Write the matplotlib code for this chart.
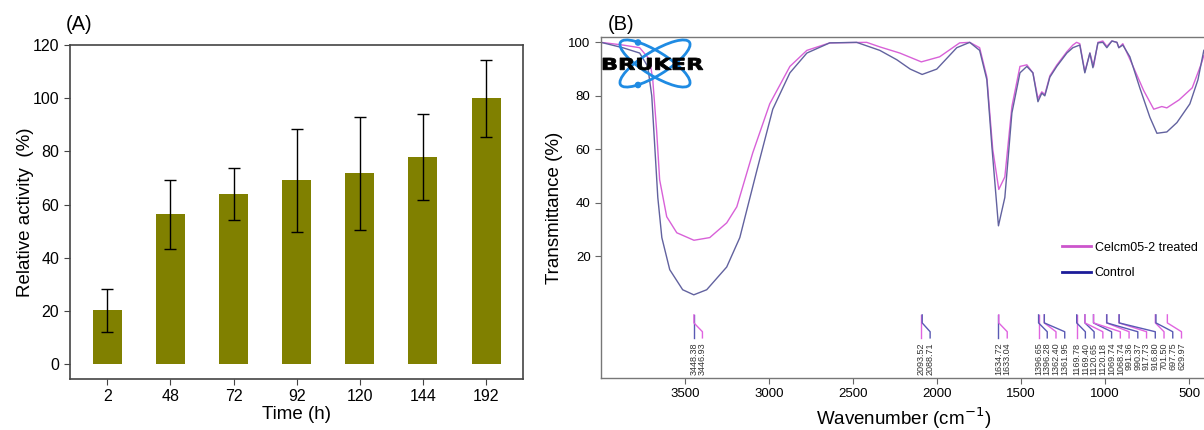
import numpy as np
import matplotlib.pyplot as plt
from matplotlib.patches import Ellipse, Circle, PathPatch
from matplotlib.lines import Line2D
from matplotlib.textpath import TextPath
from matplotlib.font_manager import FontProperties
from matplotlib.transforms import Affine2D

plt.rcParams['font.family'] = ['Liberation Sans', 'DejaVu Sans']

#%% # Data, panel (A)

time_h = ['2', '48', '72', '92', '120', '144', '192']
activity = [20.4, 56.4, 63.9, 69.1, 71.8, 77.8, 100.0]
activity_err = [8.1, 13.0, 9.8, 19.4, 21.2, 16.2, 14.4]

#%% # Data, panel (B) - FTIR spectra

wn_control = [4000, 3871, 3770, 3722, 3698, 3680, 3662, 3638, 3591, 3514,
              3448, 3371, 3252, 3174, 3073, 2978, 2876, 2775, 2639, 2479,
              2341, 2240, 2160, 2089, 2002, 1883, 1806, 1747, 1704, 1674,
              1635, 1597, 1555, 1507, 1466, 1430, 1400, 1377, 1359, 1329,
              1288, 1228, 1192, 1151, 1121, 1091, 1073, 1043, 1014, 990,
              960, 930, 919, 895, 853, 794, 734, 692, 633, 573,
              496, 448, 413]
t_control = [100, 98, 96, 91, 80, 61, 42, 27, 15, 7.5,
             5.6, 7.5, 16, 27, 52, 75, 88.6, 96, 99.8, 100,
             97, 93.5, 90, 88, 90, 98, 100, 97, 86, 61,
             31.4, 42, 73.6, 88.6, 91, 88.6, 77.8, 81, 80, 87,
             91, 96, 98, 99, 88.6, 96, 90.5, 99.8, 100, 98,
             100.5, 100, 98, 99, 94.6, 83, 72, 66, 66.5, 70,
             77, 86, 97]

wn_treated = [4000, 3871, 3770, 3710, 3692, 3669, 3651, 3609, 3549, 3447,
              3353, 3252, 3192, 3097, 2996, 2876, 2775, 2639, 2419, 2341,
              2222, 2094, 1985, 1866, 1806, 1747, 1704, 1669, 1633, 1597,
              1555, 1507, 1466, 1430, 1400, 1377, 1359, 1329, 1288, 1228,
              1192, 1170, 1151, 1121, 1091, 1069, 1043, 1014, 990, 960,
              930, 918, 895, 843, 771, 711, 663, 633, 560, 482,
              428, 413]
t_treated = [100, 99, 98, 93.5, 86, 67, 48.6, 34.8, 28.8, 26,
             27, 32.5, 38.5, 58.7, 77, 91, 97, 99.8, 100, 98.3,
             96, 92.7, 94.6, 99.8, 100, 98, 87, 60, 45, 49.7,
             76, 91, 91.6, 88.6, 79, 81.5, 80.5, 87.5, 91.5, 96.5,
             99, 100, 99.5, 89, 96, 91, 100, 100.5, 98.5, 100.5,
             100, 98, 99.5, 92.3, 82, 75, 76, 75.5, 78.5, 83,
             92, 95]

peaks_treated = [3446.93, 2093.52, 1633.04, 1396.65, 1362.40, 1169.78,
                 1120.18, 1068.74, 991.36, 917.73, 701.50, 629.97]
peaks_control = [3448.38, 2088.71, 1634.72, 1396.28, 1361.95, 1169.40,
                 1120.65, 1069.74, 990.37, 916.80, 697.75]

c_treated = '#d861d8'
c_control = '#62629f'

#%% # Figure

fig = plt.figure(figsize=(12.04, 4.30), dpi=100)

# panel A
ax = fig.add_axes([69.5/1204, (430-379)/430, (523-69.5)/1204, (379-45)/430])
x = np.arange(len(time_h))
ax.bar(x, activity, width=0.46, color='#808000', yerr=activity_err, capsize=4,
       error_kw=dict(elinewidth=1, capthick=1, ecolor='black'))
ax.set_xlim(-0.6, 6.585)
ax.set_ylim(-5.5, 120)
ax.set_yticks(np.arange(0, 121, 20))
ax.set_xticks(x)
ax.set_xticklabels(time_h)
ax.tick_params(labelsize=11.5, length=4, color='#444')
for s in ax.spines.values():
    s.set_color('#444')
    s.set_linewidth(1.2)
ax.set_xlabel('Time (h)', fontsize=13.5, labelpad=1)
ax.set_ylabel('Relative activity  (%)', fontsize=13.5, labelpad=-1)
fig.text(66/1204, 1-24/430, '(A)', fontsize=14.5, ha='left', va='center')

# panel B
ax = fig.add_axes([601/1204, (430-378)/430, (1206-601)/1204, (378-37)/430])
ax.plot(wn_treated, t_treated, color=c_treated, lw=1)
ax.plot(wn_control, t_control, color=c_control, lw=1)
ax.set_xlim(4000, 400)
ax.set_ylim(-25.5, 102)
ax.set_yticks([20, 40, 60, 80, 100])
ax.set_xticks(np.arange(3500, 499, -500))
ax.tick_params(labelsize=9.5, length=4, color='#666')
for s in ax.spines.values():
    s.set_color('#777')
    s.set_linewidth(1)
ax.set_xlabel('Wavenumber (cm$^{-1}$)', fontsize=13.5, labelpad=4)
ax.set_ylabel('Transmittance (%)', fontsize=13.5, labelpad=4)
fig.text(608/1204, 1-24/430, '(B)', fontsize=14.5, ha='left', va='center')

# peak labels, spread so they don't overlap
peaks = sorted([(p, '#e064e0') for p in peaks_treated] +
               [(p, '#5a5ab4') for p in peaks_control], reverse=True)
prev = None
for wn, col in peaks:
    lx = wn if prev is None else min(wn, prev - 52)
    prev = lx
    ax.plot([wn, wn, lx, lx], [-1.9, -4.9, -8.2, -10.5], color=col, lw=1)
    ax.text(lx, -12.3, f'{wn:.2f}', rotation=90, ha='center', va='top',
            fontsize=6.5, color='#333333')

handles = [Line2D([0], [0], color='#cc55cc', lw=2),
           Line2D([0], [0], color='#1c1c99', lw=2)]
ax.legend(handles, ['Celcm05-2 treated', 'Control'], loc='upper left',
          bbox_to_anchor=(0.762, 0.40), frameon=False, fontsize=9,
          handlelength=2.3, handletextpad=0.3, labelspacing=1.1,
          borderpad=0, borderaxespad=0)

# Bruker logo (pixel coords inside a small overlay axes)
lg = fig.add_axes([598/1204, (430-92)/430, 110/1204, 56/430])
lg.set_xlim(598, 708)
lg.set_ylim(92, 36)
lg.axis('off')
for ang in (31.6, -31.6):
    lg.add_patch(Ellipse((655, 63.5), 81, 24, angle=ang, fill=False,
                         ec='#1f8be3', lw=2))
lg.add_patch(Circle((638, 42.5), 2.6, color='#1f8be3'))
lg.add_patch(Circle((638, 85), 2.6, color='#1f8be3'))
tp = TextPath((0, 0), 'BRUKER', size=10,
              prop=FontProperties(family='DejaVu Sans', weight='bold'))
ext = tp.get_extents()
sx = 100 / ext.width
sy = 12 / ext.height
tr = Affine2D().translate(-ext.x0, -ext.y0).scale(sx, -sy).translate(603, 70)
lg.add_patch(PathPatch(tr.transform_path(tp), color='black', lw=0.6))

plt.savefig('out.png', dpi=100)
